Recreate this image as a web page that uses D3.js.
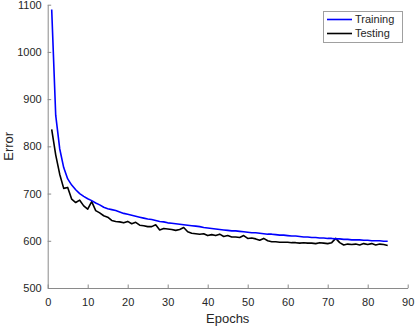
<!DOCTYPE html>
<html>
<head>
<meta charset="utf-8">
<script src="https://cdn.jsdelivr.net/npm/d3@7"></script>
<style>
  body { margin: 0; background: #fff; }
  svg { display: block; font-family: "Liberation Sans", Arial, Helvetica, sans-serif; }
</style>
</head>
<body>
<div id="chart"></div>
<script>
const width = 415;
const height = 327;

// epochs 1..85
const epochs = d3.range(1, 86);

const training = [
  1090, 866, 795, 755, 731, 718, 708, 700, 694, 689,
  685, 680, 676, 671, 668, 666, 664, 661, 658, 656,
  654, 652, 650, 648, 646, 645, 643, 641, 640, 638,
  637, 636, 635, 634, 633, 632, 631, 630, 628, 627,
  626, 625, 624, 623, 622, 621, 621, 620, 619, 618,
  617, 617, 616, 615, 614, 614, 613, 612, 612, 611,
  610, 610, 609, 608, 608, 607, 607, 606, 606, 605,
  605, 604, 604, 603, 603, 602, 602, 602, 601, 601,
  600, 600, 600, 599, 599
];

const testing = [
  836, 782, 741, 711, 713, 688, 681, 686, 674, 667,
  683, 664, 659, 653, 650, 643, 641, 640, 638, 641,
  636, 639, 633, 632, 630, 630, 634, 623, 626, 625,
  624, 622, 624, 628, 619, 616, 615, 614, 615, 611,
  613, 611, 614, 609, 611, 608, 608, 607, 611, 605,
  606, 604, 601, 605, 600, 598, 598, 597, 597, 597,
  596, 596, 595, 596, 595, 595, 594, 596, 595, 594,
  596, 605, 596, 591, 593, 592, 593, 591, 594, 592,
  594, 591, 593, 592, 590
];

const xTicks = [0, 10, 20, 30, 40, 50, 60, 70, 80, 90];
const yTicks = [500, 600, 700, 800, 900, 1000, 1100];

const series = [
  { name: "Training", values: training, color: "#0000ff" },
  { name: "Testing", values: testing, color: "#000000" }
];

const margin = { left: 47.7, right: 7.3, top: 4.7, bottom: 39 };

const svg = d3.select("#chart").append("svg")
    .attr("width", width)
    .attr("height", height);

const x = d3.scaleLinear().domain([0, 90]).range([margin.left, width - margin.right]);
const y = d3.scaleLinear().domain([500, 1100]).range([height - margin.bottom, margin.top]);

const axisColor = "#8a8a8a";
const textColor = "#262626";

// x axis (ticks pointing inward)
const gx = svg.append("g")
    .attr("transform", "translate(0," + y(500) + ")")
    .call(d3.axisBottom(x).tickValues(xTicks).tickFormat(d3.format("d"))
        .tickSizeInner(-3.5).tickSizeOuter(0).tickPadding(10));
gx.select(".domain").attr("stroke", axisColor);
gx.selectAll(".tick line").attr("stroke", axisColor);
gx.selectAll(".tick text").attr("fill", textColor).attr("font-size", 11);

// y axis
const gy = svg.append("g")
    .attr("transform", "translate(" + x(0) + ",0)")
    .call(d3.axisLeft(y).tickValues(yTicks).tickFormat(d3.format("d"))
        .tickSizeInner(-3.5).tickSizeOuter(0).tickPadding(6));
gy.select(".domain").attr("stroke", axisColor);
gy.selectAll(".tick line").attr("stroke", axisColor);
gy.selectAll(".tick text").attr("fill", textColor).attr("font-size", 11);

// axis labels
svg.append("text")
    .attr("x", (x(0) + x(90)) / 2)
    .attr("y", 323)
    .attr("text-anchor", "middle")
    .attr("font-size", 13)
    .attr("fill", textColor)
    .text("Epochs");

svg.append("text")
    .attr("transform", "translate(13," + ((y(500) + y(1100)) / 2) + ") rotate(-90)")
    .attr("text-anchor", "middle")
    .attr("font-size", 13)
    .attr("fill", textColor)
    .text("Error");

// lines
const line = d3.line()
    .x((d, i) => x(epochs[i]))
    .y(d => y(d));

svg.append("g").selectAll("path")
    .data(series.slice().reverse())
    .enter().append("path")
    .attr("d", d => line(d.values))
    .attr("fill", "none")
    .attr("stroke", d => d.color)
    .attr("stroke-width", 1.6)
    .attr("stroke-linejoin", "round");

// legend
const legend = svg.append("g").attr("transform", "translate(323,11)");
legend.append("rect")
    .attr("x", 0.5).attr("y", 0.5)
    .attr("width", 79).attr("height", 31)
    .attr("fill", "#fff")
    .attr("stroke", "#a0a0a0");

const items = legend.selectAll(".item")
    .data(series)
    .enter().append("g")
    .attr("class", "item")
    .attr("transform", (d, i) => "translate(0," + (8.5 + i * 14) + ")");
items.append("line")
    .attr("x1", 4).attr("x2", 29)
    .attr("stroke", d => d.color)
    .attr("stroke-width", 1.6);
items.append("text")
    .attr("x", 32)
    .attr("dy", "0.35em")
    .attr("font-size", 11)
    .attr("fill", textColor)
    .text(d => d.name);
</script>
</body>
</html>
